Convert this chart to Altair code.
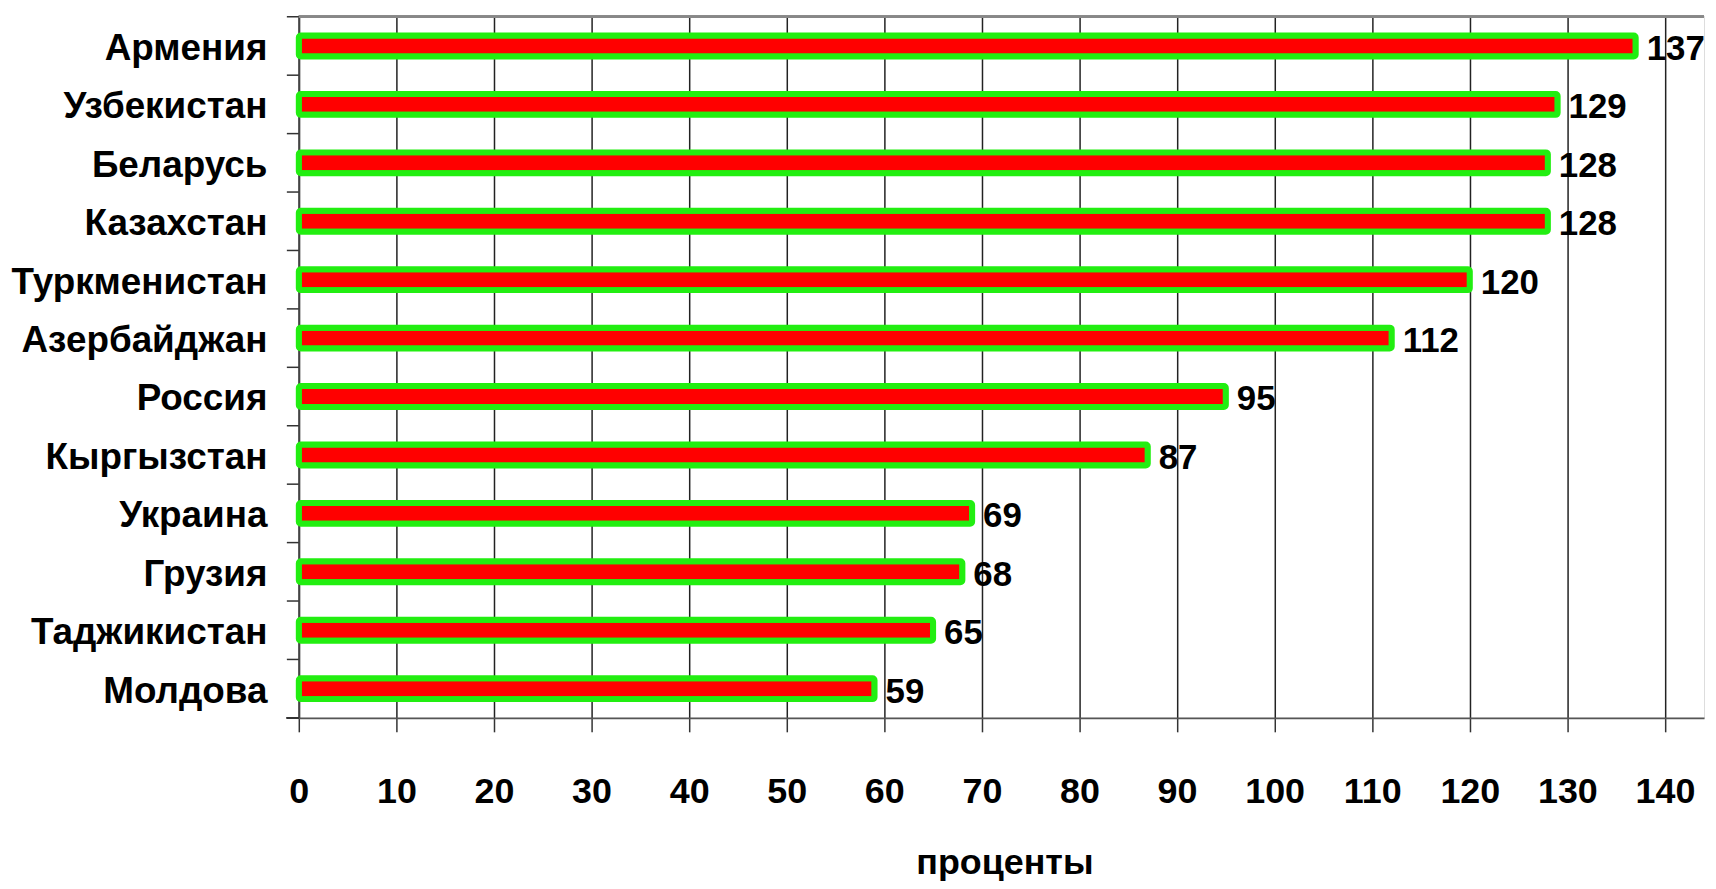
import altair as alt
import pandas as pd

countries = ["Армения", "Узбекистан", "Беларусь", "Казахстан", "Туркменистан",
             "Азербайджан", "Россия", "Кыргызстан", "Украина", "Грузия",
             "Таджикистан", "Молдова"]
values = [137, 129, 128, 128, 120, 112, 95, 87, 69, 68, 65, 59]
x_ticks = [0, 10, 20, 30, 40, 50, 60, 70, 80, 90, 100, 110, 120, 130, 140]
axis_title = "проценты"

df = pd.DataFrame({"country": countries, "value": values})

FONT = "Liberation Sans, Arial, sans-serif"
W, H = 1411, 704

x_scale = alt.Scale(domain=[0, 144], nice=False, zero=True)
y_scale = alt.Scale(domain=countries, paddingInner=0, paddingOuter=0)

base = alt.Chart(df)

bars = base.mark_bar(
    color="#FF0000", stroke="#22EE11", strokeWidth=6, cornerRadius=2
).encode(
    x=alt.X("value:Q", scale=x_scale,
            axis=alt.Axis(values=x_ticks, title=axis_title, grid=True,
                          gridColor="#222222", gridWidth=1.5,
                          domainColor="#555555", domainWidth=2,
                          tickColor="#333333", tickSize=14, tickWidth=1.5,
                          labelFont=FONT, labelFontSize=36, labelFontWeight="bold",
                          labelColor="black", labelBaseline="alphabetic",
                          labelPadding=71, labelFlush=False,
                          titleFont=FONT, titleFontSize=36, titleFontWeight="bold",
                          titleColor="black", titleBaseline="alphabetic",
                          titleY=156, titleX=W / 2 + 3)),
    y=alt.Y("country:N", scale=y_scale, sort=countries,
            axis=alt.Axis(title=None, ticks=False, grid=False,
                          domainColor="#444444", domainWidth=2,
                          labelFont=FONT, labelFontSize=37, labelFontWeight="bold",
                          labelColor="black", labelPadding=32, labelLimit=0,
                          labelBaseline="middle", labelOffset=3)),
    size=alt.value(21),
)

labels = base.mark_text(
    align="left", baseline="middle", dx=11, dy=3,
    font=FONT, fontSize=35, fontWeight="bold", color="black"
).encode(
    x=alt.X("value:Q", scale=x_scale),
    y=alt.Y("country:N", scale=y_scale, sort=countries),
    text=alt.Text("value:Q"),
)

yticks = base.mark_rule(color="#333333", strokeWidth=1.5).encode(
    y=alt.Y("country:N", scale=y_scale, sort=countries, bandPosition=0),
    x=alt.value(-12),
    x2=alt.value(0),
)

bottom_tick = base.mark_rule(color="#333333", strokeWidth=1.5).encode(
    y=alt.value(H), x=alt.value(-12), x2=alt.value(0)
)

top_border = base.mark_rule(color="#888888", strokeWidth=2).encode(
    y=alt.value(0), x=alt.value(0), x2=alt.value(W)
)

chart = alt.layer(top_border, yticks, bottom_tick, bars, labels).properties(
    width=W, height=H,
    autosize=alt.AutoSizeParams(type="none"),
    padding={"left": 292, "top": 7, "right": 4, "bottom": 162},
).configure_view(stroke=None).configure(background="white")

chart.save("out.html", embed_options={"renderer": "svg", "actions": False})
